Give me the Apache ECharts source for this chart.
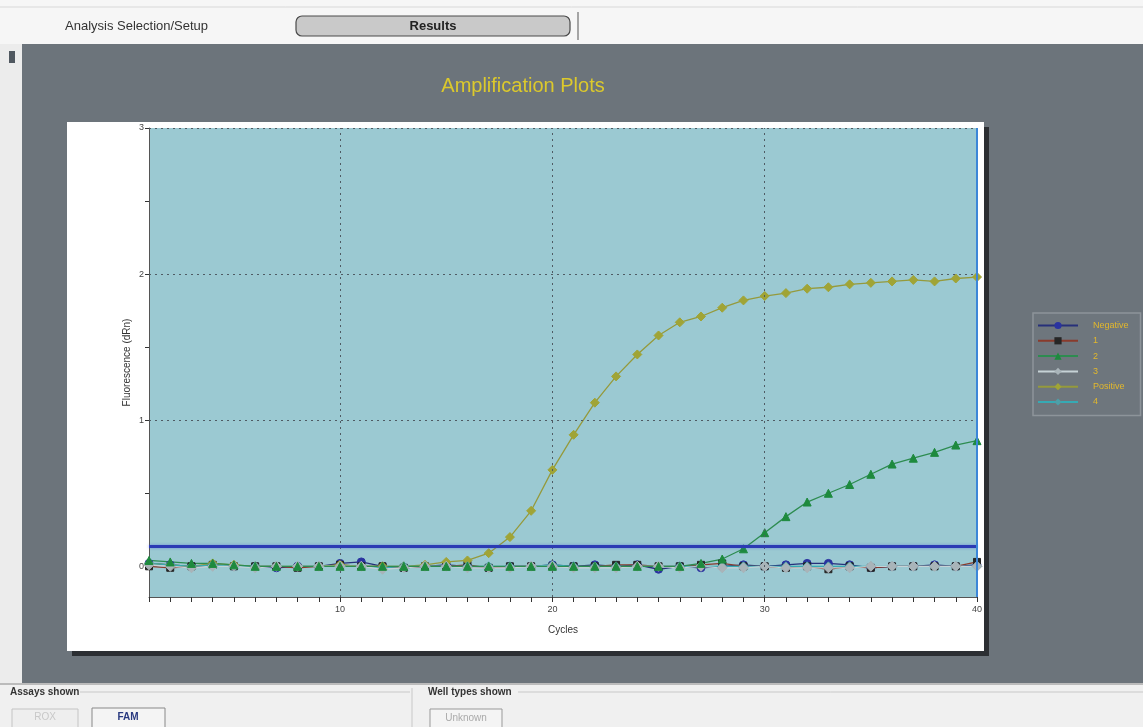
<!DOCTYPE html>
<html>
<head>
<meta charset="utf-8">
<script src="https://cdn.jsdelivr.net/npm/echarts@6/dist/echarts.min.js"></script>
<style>
html,body{margin:0;padding:0;background:#f2f2f2;}
#c{width:1143px;height:727px;}
</style>
</head>
<body>
<div id="c"></div>
<script>
// ---- data ----
const cycles = [1,2,3,4,5,6,7,8,9,10,11,12,13,14,15,16,17,18,19,20,21,22,23,24,25,26,27,28,29,30,31,32,33,34,35,36,37,38,39,40];
const seriesNames = ['Negative','1','2','3','Positive','4'];
const negative = [0.02,0.01,0.0,0.01,0.0,0.0,-0.01,0.0,0.0,0.02,0.03,0.0,-0.01,0.0,0.01,0.0,-0.01,0.0,0.0,0.01,0.0,0.01,0.0,0.01,-0.02,0.0,-0.01,0.0,0.01,0.0,0.01,0.02,0.02,0.01,-0.01,0.0,0.0,0.01,0.0,0.01];
const well1 = [0.0,-0.01,0.0,0.01,0.0,0.0,0.0,-0.01,0.0,0.01,0.0,0.0,-0.01,0.0,0.0,0.01,-0.01,0.0,0.0,0.0,0.0,0.0,0.01,0.01,0.0,0.0,0.01,0.02,0.0,0.0,-0.01,0.0,-0.02,0.0,-0.01,0.0,0.0,0.0,0.0,0.03];
const well2 = [0.04,0.03,0.02,0.02,0.01,0.0,0.0,0.0,0.0,0.0,0.0,0.0,0.0,0.0,0.0,0.0,0.0,0.0,0.0,0.0,0.0,0.0,0.0,0.0,0.0,0.0,0.02,0.05,0.12,0.23,0.34,0.44,0.50,0.56,0.63,0.70,0.74,0.78,0.83,0.86];
const well3 = [0.01,0.0,-0.01,0.0,0.0,-0.01,0.0,0.0,0.0,0.0,0.0,-0.02,-0.01,0.0,0.0,-0.01,-0.01,-0.01,0.0,0.0,-0.01,-0.01,-0.01,0.0,0.0,-0.01,0.0,-0.01,-0.01,0.0,-0.01,-0.01,-0.01,-0.01,0.0,0.0,0.0,0.0,0.0,0.0];
const positive = [0.02,0.01,0.0,0.02,0.01,0.0,0.0,0.0,0.0,0.01,0.0,0.0,0.0,0.01,0.03,0.04,0.09,0.20,0.38,0.66,0.90,1.12,1.30,1.45,1.58,1.67,1.71,1.77,1.82,1.85,1.87,1.90,1.91,1.93,1.94,1.95,1.96,1.95,1.97,1.98];
const well4 = [0.02,0.01,0.0,0.01,0.0,0.0,0.0,0.0,0.0,0.0,0.0,-0.01,0.0,0.0,0.0,0.0,0.0,0.0,0.0,0.01,0.0,0.0,0.0,0.0,0.0,0.0,0.0,0.0,0.0,0.0,0.0,0.0,0.0,0.0,0.0,0.0,0.0,0.0,0.0,0.0];
const thresholdValue = 0.145;
const xLabelValues = [10,20,30,40];
const xGridValues = [10,20,30];
const yLabelValues = [0,1,2,3];
const yTickValues = [0,0.5,1,1.5,2,2.5,3];
const yGridValues = [1,2,3];

// ---- chart ----
const chart = echarts.init(document.getElementById('c'), null, {renderer:'canvas'});
const FONT = 'Liberation Sans, Arial, sans-serif';

function pairs(vals){ return cycles.map((c,i)=>[c, vals[i]]); }

const styles = {
  'Negative': {line:'#27307a', sym:'circle', size:8, color:'#2a33a0'},
  '1': {line:'#8a3b2c', sym:'rect', size:7, color:'#262626'},
  '2': {line:'#2d8c50', sym:'triangle', size:8, color:'#1e8a3e'},
  '3': {line:'#c6d2d6', sym:'diamond', size:10, color:'#a9b4b9'},
  'Positive': {line:'#959a3c', sym:'diamond', size:9, color:'#a0a436'},
  '4': {line:'#36aab4', sym:'diamond', size:9, color:'#4e9fa8'}
};
const dataMap = {'Negative':negative,'1':well1,'2':well2,'3':well3,'Positive':positive,'4':well4};
const drawOrder = ['Negative','1','Positive','4','3','2'];

const series = drawOrder.map(n => ({
  name: n, type:'line', data: pairs(dataMap[n]),
  symbol: styles[n].sym, symbolSize: styles[n].size, showSymbol:true,
  lineStyle:{color:styles[n].line, width:1.3},
  itemStyle:{color:styles[n].color, borderColor:styles[n].color},
  animation:false, z:3
}));

// grid lines + threshold + right border line via markLine on a helper series
series.unshift({
  name:'_grid', type:'line', data:[], silent:true, animation:false, z:2,
  markLine:{
    silent:true, symbol:['none','none'], animation:false,
    label:{show:false},
    data: [
      ...xGridValues.map(v=>({xAxis:v, lineStyle:{type:[2,4], color:'#4f5b64', width:1}})),
      ...yGridValues.map(v=>({yAxis:v, lineStyle:{type:[2,4], color:'#4f5b64', width:1}})),
      {yAxis:thresholdValue, lineStyle:{type:'solid', color:'#2b3ab4', width:3, shadowColor:'rgba(60,80,220,0.5)', shadowBlur:3}},
      {xAxis:cycles[cycles.length-1], lineStyle:{type:'solid', color:'#3c86d8', width:2}}
    ]
  }
});

const option = {
  backgroundColor:'#f2f2f2',
  animation:false,
  textStyle:{fontFamily:FONT},
  graphic:[
    // top bar
    {type:'rect', z:-5, shape:{x:0,y:0,width:1143,height:44}, style:{fill:'#f6f6f6'}},
    {type:'line', z:-4, shape:{x1:0,y1:7,x2:1143,y2:7}, style:{stroke:'#d8d8d8', lineWidth:1}},
    {type:'text', z:5, x:65, y:26, style:{text:'Analysis Selection/Setup', font:'13px '+FONT, fill:'#333', textVerticalAlign:'middle'}},
    {type:'rect', z:4, shape:{x:296,y:16,width:274,height:20,r:6}, style:{fill:'#c9c9c9', stroke:'#4a4a4a', lineWidth:1.2}},
    {type:'text', z:5, x:433, y:26, style:{text:'Results', font:'bold 13px '+FONT, fill:'#222', textAlign:'center', textVerticalAlign:'middle'}},
    {type:'line', z:4, shape:{x1:578,y1:12,x2:578,y2:40}, style:{stroke:'#555', lineWidth:1}},
    // left strip
    {type:'rect', z:-5, shape:{x:0,y:44,width:22,height:640}, style:{fill:'#ececec'}},
    {type:'rect', z:-4, shape:{x:9,y:51,width:6,height:12}, style:{fill:'#505860'}},
    // grey workspace
    {type:'rect', z:-5, shape:{x:22,y:44,width:1121,height:640}, style:{fill:'#6c747b'}},
    {type:'text', z:5, x:523, y:86, style:{text:'Amplification Plots', font:'20px '+FONT, fill:'#dcc92c', textAlign:'center', textVerticalAlign:'middle'}},
    // white chart panel with shadow
    {type:'rect', z:-3, shape:{x:72,y:127,width:917,height:529}, style:{fill:'#2c2f33'}},
    {type:'rect', z:-2, shape:{x:67,y:122,width:917,height:529}, style:{fill:'#ffffff'}},
    // bottom panel
    {type:'rect', z:-5, shape:{x:0,y:684,width:1143,height:43}, style:{fill:'#f0f0f0'}},
    {type:'line', z:-4, shape:{x1:0,y1:684,x2:1143,y2:684}, style:{stroke:'#bbbbbb', lineWidth:2}},
    {type:'text', z:5, x:10, y:692, style:{text:'Assays shown', font:'bold 10px '+FONT, fill:'#333', textVerticalAlign:'middle'}},
    {type:'line', z:4, shape:{x1:80,y1:692,x2:410,y2:692}, style:{stroke:'#c8c8c8', lineWidth:1}},
    {type:'line', z:4, shape:{x1:412,y1:688,x2:412,y2:727}, style:{stroke:'#c8c8c8', lineWidth:1}},
    {type:'text', z:5, x:428, y:692, style:{text:'Well types shown', font:'bold 10px '+FONT, fill:'#333', textVerticalAlign:'middle'}},
    {type:'line', z:4, shape:{x1:518,y1:692,x2:1143,y2:692}, style:{stroke:'#c8c8c8', lineWidth:1}},
    {type:'rect', z:4, shape:{x:12,y:709,width:66,height:20}, style:{fill:'#eeeeee', stroke:'#c4c4c4', lineWidth:1}},
    {type:'text', z:5, x:45, y:717, style:{text:'ROX', font:'10px '+FONT, fill:'#c8c8c8', textAlign:'center', textVerticalAlign:'middle'}},
    {type:'rect', z:4, shape:{x:92,y:708,width:73,height:21}, style:{fill:'#f4f4f4', stroke:'#888', lineWidth:1}},
    {type:'text', z:5, x:128, y:717, style:{text:'FAM', font:'bold 10px '+FONT, fill:'#2a3a80', textAlign:'center', textVerticalAlign:'middle'}},
    {type:'rect', z:4, shape:{x:430,y:709,width:72,height:20}, style:{fill:'#f4f4f4', stroke:'#999', lineWidth:1}},
    {type:'text', z:5, x:466, y:718, style:{text:'Unknown', font:'10px '+FONT, fill:'#aaa', textAlign:'center', textVerticalAlign:'middle'}}
  ],
  legend:{
    data: seriesNames,
    orient:'vertical', left:1033, top:313,
    backgroundColor:'#6e767d', borderColor:'#8d949a', borderWidth:1.5,
    padding:[8,12,9,4], itemWidth:40, itemHeight:9, itemGap:6.3,
    textStyle:{color:'#e3b82c', fontSize:9, fontFamily:FONT, padding:[0,0,0,10]},
    selectedMode:false
  },
  grid:{left:149, top:128, width:828, height:469, show:true, backgroundColor:'#9bc9d2', borderWidth:0, containLabel:false},
  xAxis:{
    type:'value', min:cycles[0], max:cycles[cycles.length-1],
    name:'Cycles', nameLocation:'middle', nameGap:28, nameMoveOverlap:false,
    nameTextStyle:{fontSize:10, color:'#333', fontFamily:FONT},
    axisLine:{show:true, onZero:false, lineStyle:{color:'#555', width:1}},
    axisTick:{show:true, customValues:cycles, length:5, inside:false, lineStyle:{color:'#333'}},
    axisLabel:{customValues:xLabelValues, fontSize:9, color:'#444', margin:8, fontFamily:FONT},
    splitLine:{show:false}
  },
  yAxis:{
    type:'value', min:-0.21, max:3,
    name:'Fluorescence (dRn)', nameLocation:'middle', nameGap:17, nameRotate:90, nameMoveOverlap:false,
    nameTextStyle:{fontSize:10, color:'#333', fontFamily:FONT},
    axisLine:{show:true, onZero:false, lineStyle:{color:'#555', width:1}},
    axisTick:{show:true, customValues:yTickValues, length:4, lineStyle:{color:'#333'}},
    axisLabel:{customValues:yLabelValues, fontSize:9, color:'#444', margin:5, fontFamily:FONT},
    splitLine:{show:false}
  },
  series: series
};
chart.setOption(option);
</script>
</body>
</html>
